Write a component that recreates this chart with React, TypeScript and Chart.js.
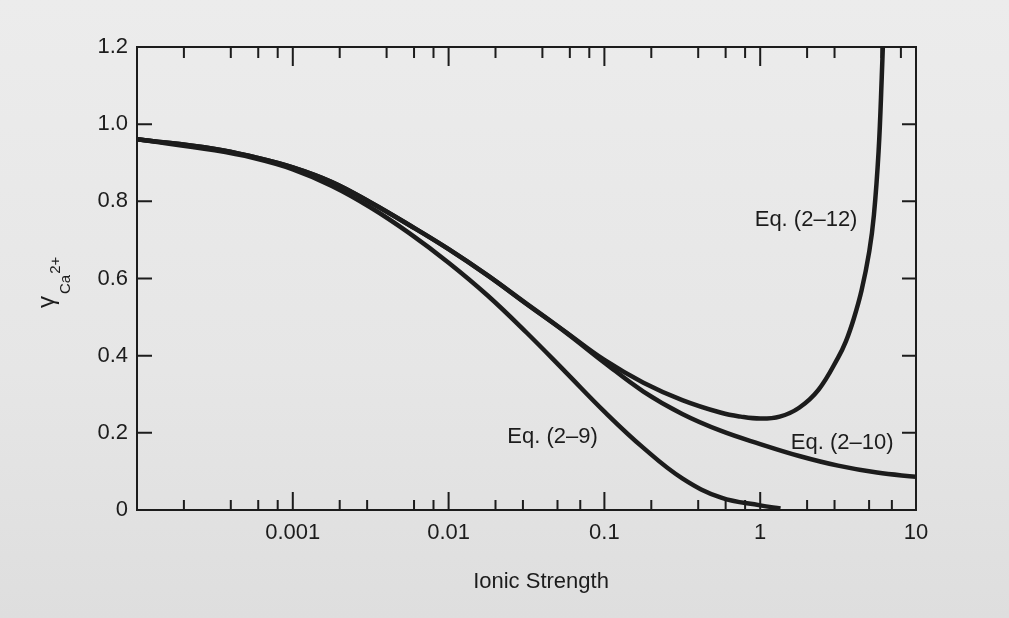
import React, { useEffect, useRef } from "react";
import { Chart, registerables } from "chart.js";

Chart.register(...registerables);

// Values: ionic strength (x) and activity coefficient of Ca2+ (y)
const eq2_9_I = [0.0001, 0.000316, 0.000562, 0.001, 0.00178, 0.00316, 0.00562, 0.01, 0.0178, 0.0316, 0.0562, 0.1, 0.178, 0.316, 0.562, 1.0, 1.35];
const eq2_9_g = [0.961, 0.932, 0.912, 0.883, 0.84, 0.784, 0.717, 0.641, 0.556, 0.46, 0.358, 0.255, 0.161, 0.082, 0.032, 0.012, 0.004];

const eq2_10_I = [0.0001, 0.000316, 0.000562, 0.001, 0.00178, 0.00316, 0.00562, 0.01, 0.0178, 0.0316, 0.0562, 0.1, 0.178, 0.316, 0.562, 1.0, 1.78, 3.16, 5.62, 10];
const eq2_10_g = [0.961, 0.936, 0.915, 0.888, 0.85, 0.797, 0.738, 0.676, 0.608, 0.534, 0.461, 0.382, 0.307, 0.249, 0.205, 0.171, 0.14, 0.115, 0.097, 0.086];

const eq2_12_I = [0.0001, 0.000316, 0.000562, 0.001, 0.00178, 0.00316, 0.00562, 0.01, 0.0178, 0.0316, 0.0562, 0.1, 0.178, 0.316, 0.562, 0.75, 1.0, 1.334, 1.778, 2.371, 3.162, 3.548, 3.981, 4.467, 5.012, 5.37, 5.754, 6.026, 6.31];
const eq2_12_g = [0.961, 0.936, 0.915, 0.888, 0.85, 0.797, 0.738, 0.676, 0.608, 0.535, 0.462, 0.389, 0.33, 0.285, 0.252, 0.242, 0.237, 0.242, 0.265, 0.312, 0.395, 0.437, 0.495, 0.568, 0.67, 0.765, 0.93, 1.12, 1.35];

const xMajorTicks = [0.001, 0.01, 0.1, 1, 10];
const xTickLabels = ["0.001", "0.01", "0.1", "1", "10"];
const yTicks = [0, 0.2, 0.4, 0.6, 0.8, 1.0, 1.2];
const yTickLabels = ["0", "0.2", "0.4", "0.6", "0.8", "1.0", "1.2"];
const frameMajorTicks = [0.001, 0.01, 0.1, 1];
const bottomMinorTicks = [2e-4, 4e-4, 6e-4, 8e-4, 2e-3, 3e-3, 6e-3, 8e-3, 0.02, 0.03, 0.05, 0.07, 0.2, 0.4, 0.6, 0.8, 2, 3, 5, 7];
const topMinorTicks = [2e-4, 4e-4, 6e-4, 8e-4, 2e-3, 4e-3, 6e-3, 8e-3, 0.02, 0.04, 0.06, 0.08, 0.2, 0.4, 0.6, 0.8, 2, 3, 6, 8];
const yFrameTicks = [0.2, 0.4, 0.6, 0.8, 1.0];

const curveLabelTexts = ["Eq. (2–9)", "Eq. (2–10)", "Eq. (2–12)"];
const curveLabelX = [0.0465, 3.36, 1.97];
const curveLabelY = [0.189, 0.174, 0.751];

const xTitle = "Ionic Strength";

const INK = "#1c1c1c";
const FONT = "'Liberation Sans', Arial, sans-serif";

const toPoints = (xs: number[], ys: number[]) => xs.map((x, i) => ({ x, y: ys[i] }));

const framePlugin = {
  id: "frameAndText",
  afterDatasetsDraw(chart: any) {
    const { ctx, chartArea: a, scales } = chart;
    const xs = scales.x;
    const ys = scales.y;
    ctx.save();
    ctx.strokeStyle = INK;
    ctx.lineWidth = 2;
    ctx.strokeRect(a.left, a.top, a.right - a.left, a.bottom - a.top);
    ctx.beginPath();
    for (const v of frameMajorTicks) {
      const px = xs.getPixelForValue(v);
      ctx.moveTo(px, a.bottom);
      ctx.lineTo(px, a.bottom - 18);
      ctx.moveTo(px, a.top);
      ctx.lineTo(px, a.top + 19);
    }
    for (const v of bottomMinorTicks) {
      const px = xs.getPixelForValue(v);
      ctx.moveTo(px, a.bottom);
      ctx.lineTo(px, a.bottom - 10);
    }
    for (const v of topMinorTicks) {
      const px = xs.getPixelForValue(v);
      ctx.moveTo(px, a.top);
      ctx.lineTo(px, a.top + 11);
    }
    for (const v of yFrameTicks) {
      const py = ys.getPixelForValue(v);
      ctx.moveTo(a.left, py);
      ctx.lineTo(a.left + 15, py);
      ctx.moveTo(a.right, py);
      ctx.lineTo(a.right - 14, py);
    }
    ctx.stroke();

    // curve labels
    ctx.fillStyle = INK;
    ctx.font = `22px ${FONT}`;
    ctx.textAlign = "center";
    ctx.textBaseline = "middle";
    curveLabelTexts.forEach((t, i) => {
      ctx.fillText(t, xs.getPixelForValue(curveLabelX[i]), ys.getPixelForValue(curveLabelY[i]));
    });

    // x axis title
    ctx.textBaseline = "alphabetic";
    ctx.fillText(xTitle, 541, 588);

    // y axis title: gamma with subscript Ca and superscript 2+
    ctx.translate(54, 308);
    ctx.rotate(-Math.PI / 2);
    ctx.textAlign = "left";
    ctx.font = `24px ${FONT}`;
    ctx.fillText("γ", 0, 0);
    const gw = ctx.measureText("γ").width;
    ctx.font = `15px ${FONT}`;
    ctx.fillText("Ca", gw + 2, 16);
    const cw = ctx.measureText("Ca").width;
    ctx.fillText("2+", gw + 2 + cw + 1, 6);
    ctx.restore();
  },
};

export default function App() {
  const ref = useRef<HTMLCanvasElement | null>(null);

  useEffect(() => {
    if (!ref.current) return;
    const lineStyle = {
      borderColor: INK,
      borderWidth: 4.5,
      pointRadius: 0,
      fill: false,
      tension: 0.4,
    };
    const chart = new Chart(ref.current, {
      type: "line",
      data: {
        datasets: [
          { label: "Eq. (2–9)", data: toPoints(eq2_9_I, eq2_9_g), ...lineStyle },
          { label: "Eq. (2–10)", data: toPoints(eq2_10_I, eq2_10_g), ...lineStyle },
          { label: "Eq. (2–12)", data: toPoints(eq2_12_I, eq2_12_g), ...lineStyle },
        ],
      },
      options: {
        animation: false,
        responsive: false,
        devicePixelRatio: 1,
        layout: { padding: { left: 0, right: 93, top: 47, bottom: 0 } },
        plugins: { legend: { display: false }, tooltip: { enabled: false } },
        scales: {
          x: {
            type: "logarithmic",
            min: 1e-4,
            max: 10,
            grid: { display: false, drawTicks: false },
            border: { display: false },
            afterBuildTicks: (scale: any) => {
              scale.ticks = xMajorTicks.map((v) => ({ value: v }));
            },
            afterFit: (scale: any) => {
              scale.height = 108;
            },
            ticks: {
              autoSkip: false,
              maxRotation: 0,
              padding: 10,
              color: INK,
              font: { family: FONT, size: 22 },
              callback: (_v: any, i: number) => xTickLabels[i],
            },
          },
          y: {
            type: "linear",
            min: 0,
            max: 1.2,
            grid: { display: false, drawTicks: false },
            border: { display: false },
            afterBuildTicks: (scale: any) => {
              scale.ticks = yTicks.map((v) => ({ value: v }));
            },
            afterFit: (scale: any) => {
              scale.width = 137;
            },
            ticks: {
              padding: 9,
              color: INK,
              font: { family: FONT, size: 22 },
              callback: (_v: any, i: number) => yTickLabels[i],
            },
          },
        },
      },
      plugins: [framePlugin],
    });
    return () => chart.destroy();
  }, []);

  return (
    <div
      style={{
        position: "fixed",
        left: 0,
        top: 0,
        width: 1009,
        height: 618,
        background: "linear-gradient(180deg, #ececec 0%, #e6e6e6 60%, #dedede 100%)",
      }}
    >
      <canvas ref={ref} width={1009} height={618} style={{ display: "block" }} />
    </div>
  );
}
